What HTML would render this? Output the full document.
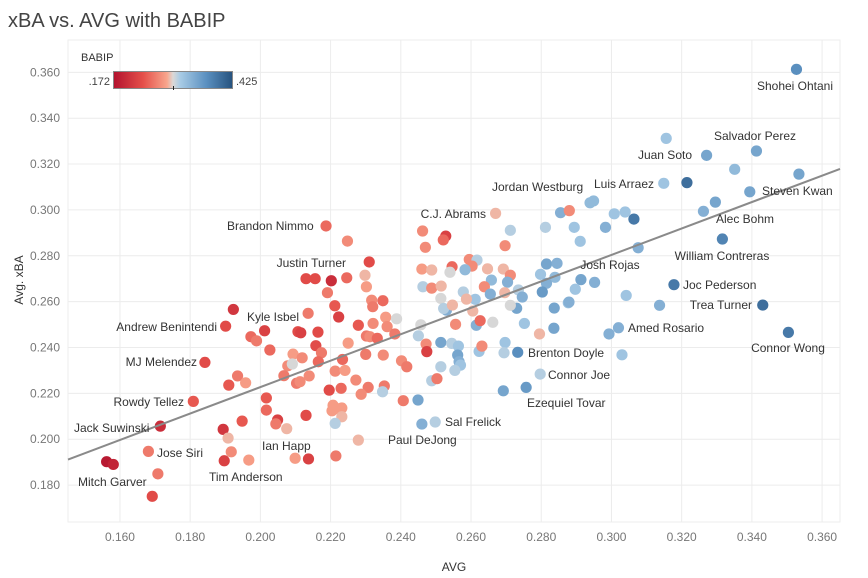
<!DOCTYPE html>
<html><head><meta charset="utf-8">
<style>
html,body{margin:0;padding:0;background:#fff;}
svg{display:block;font-family:"Liberation Sans",sans-serif;}
</style></head>
<body>
<svg id="chart" width="868" height="578" viewBox="0 0 868 578" xmlns="http://www.w3.org/2000/svg">
<text x="8" y="27" font-size="20" fill="#444">xBA vs. AVG with BABIP</text>
<g id="grid"></g>
<g id="xticks"></g>
<g id="yticks"></g>
<text x="454" y="571" font-size="12" fill="#333" text-anchor="middle">AVG</text>
<text transform="translate(23,280) rotate(-90)" font-size="12" fill="#333" text-anchor="middle">Avg. xBA</text>
<g id="dots"></g>
<g id="trend"></g>
<g id="labels" font-size="12" fill="#333">
<text x="795" y="90" text-anchor="middle">Shohei Ohtani</text>
<text x="755" y="140" text-anchor="middle">Salvador Perez</text>
<text x="692" y="159" text-anchor="end">Juan Soto</text>
<text x="654" y="188" text-anchor="end">Luis Arraez</text>
<text x="492" y="191">Jordan Westburg</text>
<text x="762" y="195">Steven Kwan</text>
<text x="745" y="223" text-anchor="middle">Alec Bohm</text>
<text x="722" y="260" text-anchor="middle">William Contreras</text>
<text x="610" y="269" text-anchor="middle">Josh Rojas</text>
<text x="683" y="289">Joc Pederson</text>
<text x="752" y="309" text-anchor="end">Trea Turner</text>
<text x="628" y="332">Amed Rosario</text>
<text x="788" y="352" text-anchor="middle">Connor Wong</text>
<text x="528" y="357">Brenton Doyle</text>
<text x="548" y="379">Connor Joe</text>
<text x="527" y="407">Ezequiel Tovar</text>
<text x="445" y="426">Sal Frelick</text>
<text x="388" y="444">Paul DeJong</text>
<text x="486" y="218" text-anchor="end">C.J. Abrams</text>
<text x="227" y="230">Brandon Nimmo</text>
<text x="346" y="267" text-anchor="end">Justin Turner</text>
<text x="247" y="321">Kyle Isbel</text>
<text x="217" y="331" text-anchor="end">Andrew Benintendi</text>
<text x="197" y="366" text-anchor="end">MJ Melendez</text>
<text x="184" y="406" text-anchor="end">Rowdy Tellez</text>
<text x="74" y="432">Jack Suwinski</text>
<text x="157" y="457">Jose Siri</text>
<text x="78" y="486">Mitch Garver</text>
<text x="262" y="450">Ian Happ</text>
<text x="209" y="481">Tim Anderson</text>
</g>
<g>
<defs>
<linearGradient id="rb" x1="0" x2="1" y1="0" y2="0">
<stop offset="0" stop-color="#b2122e"/><stop offset="0.25" stop-color="#e5504a"/><stop offset="0.45" stop-color="#f8a68d"/><stop offset="0.5" stop-color="#dcd8d6"/><stop offset="0.56" stop-color="#a8cbe5"/><stop offset="0.78" stop-color="#5b90c0"/><stop offset="1" stop-color="#26527e"/>
</linearGradient>
</defs>
<text x="81" y="61" font-size="11" fill="#333">BABIP</text>
<text x="110" y="85" font-size="11" fill="#444" text-anchor="end">.172</text>
<rect x="113.5" y="71.5" width="119" height="17" fill="url(#rb)" stroke="#888" stroke-width="1"/>
<line x1="173.5" y1="86" x2="173.5" y2="90" stroke="#222" stroke-width="1"/>
<text x="236" y="85" font-size="11" fill="#444">.425</text>
</g>
</svg>
<script>
const avgValues = [
.1923,.1901,.2012,.1973,.1989,.2027,.1842,.1935,.1910,.1958,.2093,.2078,.2067,.2103,.2091,.1809,.2017,.2017,.2049,.2044,.2075,.1948,.1715,.1894,.1908,.1681,.1917,.1897,.1967,.2099,.1562,.1581,.1708,.1692,.2107,
.2187,.2248,.2310,.2130,.2156,.2202,.2246,.2298,.2302,.2191,.2317,.2349,.2320,.2212,.2223,.2136,.2115,.2164,.2279,.2321,.2357,.2388,.2361,.2302,.2312,.2333,.2383,.2158,.2174,.2119,.2250,.2300,.2350,.2234,.2165,.2402,.2417,.2213,.2241,.2139,.2113,.2272,.2307,.2353,.2348,.2287,.2196,.2230,.2407,.2449,.2207,.2219,.2232,.2204,.2232,.2130,.2213,.2279,
.2462,.2528,.2521,.2470,.2670,.2712,.2697,.2460,.2488,.2546,.2540,.2595,.2617,.2603,.2583,.2647,.2692,.2712,.2658,.2704,.2463,.2488,.2515,.2578,.2612,.2638,.2655,.2587,.2514,.2530,.2522,.2547,.2605,.2696,.2735,.2746,.2730,.2712,.2457,.2450,.2472,.2474,.2556,.2615,.2626,.2662,.2514,.2545,.2564,.2562,.2566,.2570,.2554,.2514,.2488,.2503,.2623,.2631,.2697,.2694,.2733,.2795,.2797,.2692,.2757,.2460,.2498,.2812,.2855,.2880,.2815,.2845,.2798,.2839,.2815,.2803,.2837,.2836,.2877,.2752,
.2137,.2215,
.3527,.3156,.3271,.3413,.3351,.3534,.3149,.3215,.3394,.3296,.3262,.3316,.2939,.2949,.3008,.3039,.3064,.2894,.2983,.2911,.3076,.2913,.2952,.2897,.2879,.3042,.3178,.3137,.3431,.3020,.2993,.3030,.3504
];
const xbaValues = [
.2566,.2493,.2473,.2447,.2429,.2389,.2335,.2276,.2236,.2246,.2371,.2320,.2277,.2244,.2328,.2165,.2180,.2127,.2084,.2067,.2046,.2079,.2057,.2043,.2005,.1947,.1945,.1906,.1909,.1917,.1902,.1890,.1849,.1751,.2469,
.2930,.2864,.2773,.2700,.2700,.2691,.2704,.2715,.2665,.2639,.2606,.2604,.2578,.2582,.2533,.2549,.2464,.2467,.2497,.2505,.2532,.2525,.2491,.2450,.2447,.2440,.2459,.2408,.2377,.2355,.2419,.2370,.2367,.2348,.2338,.2342,.2316,.2297,.2300,.2276,.2251,.2258,.2226,.2232,.2207,.2196,.2214,.2222,.2168,.2171,.2148,.2133,.2136,.2124,.2098,.2104,.2069,.1996,
.2908,.2886,.2869,.2837,.2985,.2911,.2844,.2742,.2738,.2752,.2728,.2784,.2781,.2755,.2739,.2743,.2742,.2715,.2694,.2685,.2665,.2659,.2668,.2642,.2610,.2665,.2633,.2611,.2614,.2563,.2570,.2585,.2559,.2639,.2651,.2620,.2571,.2584,.2499,.2451,.2415,.2382,.2501,.2497,.2517,.2510,.2422,.2418,.2406,.2367,.2338,.2323,.2300,.2316,.2255,.2264,.2383,.2406,.2422,.2377,.2379,.2459,.2284,.2211,.2226,.2066,.2075,.2924,.2988,.2997,.2764,.2767,.2719,.2706,.2680,.2642,.2572,.2484,.2595,.2505,
.1914,.1927,
.3613,.3312,.3238,.3257,.3177,.3156,.3116,.3119,.3079,.3034,.2994,.2873,.3031,.3039,.2983,.2991,.2960,.2924,.2924,.2863,.2835,.2696,.2684,.2654,.2598,.2627,.2674,.2584,.2585,.2486,.2459,.2368,.2466
];
const babipValues = [
.21,.23,.22,.25,.26,.25,.23,.26,.24,.28,.28,.27,.26,.26,.30,.24,.24,.25,.22,.26,.29,.24,.20,.21,.29,.26,.27,.22,.28,.28,.18,.19,.26,.23,.23,
.25,.27,.23,.23,.23,.20,.25,.29,.28,.26,.27,.25,.26,.24,.22,.26,.22,.23,.24,.27,.28,.30,.27,.26,.27,.25,.26,.23,.26,.27,.28,.26,.27,.25,.25,.27,.26,.27,.28,.27,.27,.27,.26,.26,.31,.27,.23,.25,.26,.35,.28,.28,.28,.28,.29,.23,.31,.29,
.27,.22,.25,.27,.29,.31,.27,.28,.29,.25,.30,.27,.31,.27,.33,.29,.29,.27,.33,.34,.31,.27,.29,.31,.32,.27,.34,.29,.30,.34,.31,.29,.29,.29,.31,.34,.35,.30,.30,.31,.27,.22,.27,.34,.25,.30,.35,.31,.32,.35,.34,.32,.31,.31,.31,.26,.32,.27,.32,.31,.37,.29,.31,.35,.36,.34,.31,.31,.34,.27,.35,.34,.32,.33,.34,.36,.35,.35,.32,.32,
.22,.26,
.37,.32,.35,.35,.33,.35,.32,.40,.35,.35,.34,.38,.33,.33,.32,.32,.39,.32,.34,.32,.34,.35,.34,.32,.34,.32,.39,.34,.40,.34,.34,.32,.39
];
const xTickValues = [0.16,0.18,0.20,0.22,0.24,0.26,0.28,0.30,0.32,0.34,0.36];
const yTickValues = [0.18,0.20,0.22,0.24,0.26,0.28,0.30,0.32,0.34,0.36];
const trendIntercept = 0.1912;   // xBA at AVG = trendStart
const trendStart = 0.1453;
const trendSlope = 0.5764;
const babipMin = 0.172, babipMax = 0.425;

const NS = "http://www.w3.org/2000/svg";
const X0 = 68, X1 = 840, Y0 = 40, Y1 = 522;
const xMin = 0.1452, xMax = 0.3651, yMin = 0.1639, yMax = 0.3741;
function xs(v){ return X0 + (v - xMin) / (xMax - xMin) * (X1 - X0); }
function ys(v){ return Y1 - (v - yMin) / (yMax - yMin) * (Y1 - Y0); }
function mk(tag, attrs, parent){ const e = document.createElementNS(NS, tag); for (const k in attrs) e.setAttribute(k, attrs[k]); parent.appendChild(e); return e; }

const stops = [[0,[178,18,46]],[0.25,[229,80,74]],[0.45,[248,166,141]],[0.5,[220,216,214]],[0.56,[168,203,229]],[0.78,[91,144,192]],[1,[38,82,126]]];
function color(b){
  let t = Math.max(0, Math.min(1, (b - babipMin) / (babipMax - babipMin)));
  for (let i = 1; i < stops.length; i++){
    if (t <= stops[i][0]){
      const a = stops[i-1], c = stops[i]; const f = (t - a[0]) / (c[0] - a[0]);
      const r = a[1].map((v, j) => Math.round(v + (c[1][j] - v) * f));
      return `rgb(${r[0]},${r[1]},${r[2]})`;
    }
  }
  return 'rgb(38,82,126)';
}

const grid = document.getElementById('grid');
mk('rect', {x: X0, y: Y0, width: X1 - X0, height: Y1 - Y0, fill: 'none', stroke: '#eee'}, grid);
const xt = document.getElementById('xticks');
xTickValues.forEach(v => {
  const x = xs(v);
  const gl = mk('line', {x1: x, x2: x, y1: Y0, y2: Y1, stroke: '#ececec', 'stroke-width': 1}, grid);
  
  
  const t = mk('text', {x: x, y: 541, 'font-size': 12, fill: '#777', 'text-anchor': 'middle'}, xt);
  
  
  t.textContent = v.toFixed(3);
});
const yt = document.getElementById('yticks');
yTickValues.forEach(v => {
  const y = ys(v);
  const gl = mk('line', {x1: X0, x2: X1, y1: y, y2: y, stroke: '#ececec', 'stroke-width': 1}, grid);
  
  
  const t = mk('text', {x: 60, y: y + 4, 'font-size': 12, fill: '#777', 'text-anchor': 'end'}, yt);
  
  
  t.textContent = v.toFixed(3);
});

const dots = document.getElementById('dots');
for (let i = 0; i < avgValues.length; i++){
  const c = mk('circle', {cx: xs(avgValues[i]), cy: ys(xbaValues[i]), r: 5.6, fill: color(babipValues[i])}, dots);
  
  
}

const tr = document.getElementById('trend');
const tx0 = xMin, tx1 = xMax;
const line = mk('line', {x1: xs(tx0), y1: ys(trendIntercept + trendSlope * (tx0 - trendStart)), x2: xs(tx1), y2: ys(trendIntercept + trendSlope * (tx1 - trendStart)), stroke: '#8a8a8a', 'stroke-width': 2}, tr);


</script>
</body></html>
